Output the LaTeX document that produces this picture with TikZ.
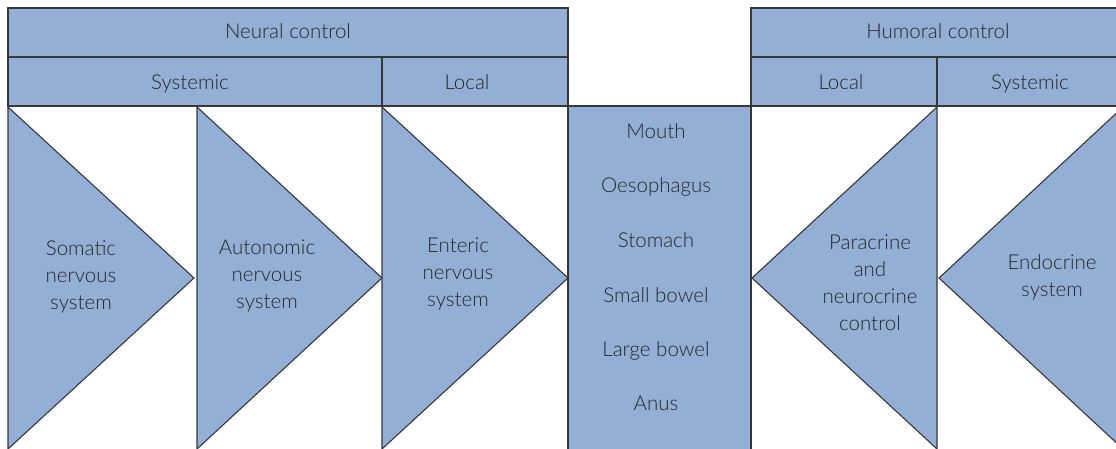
\documentclass[tikz,border=0pt]{standalone}
\usepackage{fontspec}
\setmainfont{Lato}[UprightFont={* Light}]
\definecolor{panel}{RGB}{147,175,214}
\definecolor{edge}{RGB}{55,55,58}
\definecolor{ink}{RGB}{40,38,40}
\tikzset{
  shade/.style={fill=panel,draw=edge,line width=1.1pt,line join=miter},
  lbl/.style={text=ink,align=center,inner sep=0pt,font=\fontsize{20.5}{27}\selectfont},
  one/.style={lbl,anchor=base}
}
\begin{document}
\begin{tikzpicture}[x=1pt,y=-1pt]
\useasboundingbox (0,0) rectangle (1116,448);
\clip (0,0) rectangle (1116,448);
% header boxes
\draw[shade] (8,8) rectangle (568,57);
\draw[shade] (8,57) rectangle (382,106);
\draw[shade] (382,57) rectangle (568,106);
\draw[shade] (751,8) rectangle (1130,57);
\draw[shade] (751,57) rectangle (937,106);
\draw[shade] (937,57) rectangle (1130,106);
% triangles
\draw[shade] (8,107) -- (194,278) -- (8,449) -- cycle;
\draw[shade] (197,107) -- (382,278) -- (197,449) -- cycle;
\draw[shade] (382,107) -- (568,278) -- (382,449) -- cycle;
\draw[shade] (937,107) -- (752,278) -- (937,449) -- cycle;
\draw[shade] (1123,107) -- (939,278) -- (1123,449) -- cycle;
% central column
\draw[shade] (568,106) rectangle (751,460);
% labels
\node[one] (neural) at (288,38) {Neural control};
\node[one] (nsys) at (190,89) {Systemic};
\node[one] (nloc) at (467,89) {Local};
\node[one] (humoral) at (938,38) {Humoral control};
\node[one] (hloc) at (841,89) {Local};
\node[one] (hsys) at (1030,89) {Systemic};
\node[lbl] (somatic) at (81,277) {Somatic\\nervous\\system};
\node[lbl] (autonomic) at (267,276) {Autonomic\\nervous\\system};
\node[lbl] (enteric) at (458,274) {Enteric\\nervous\\system};
\node[lbl] (paracrine) at (870,283) {Paracrine\\and\\neurocrine\\control};
\node[lbl] (endocrine) at (1052,277) {Endocrine\\system};
\node[one] (mouth) at (656,138) {Mouth};
\node[one] (oeso) at (656,192) {Oesophagus};
\node[one] (stomach) at (656,247) {Stomach};
\node[one] (small) at (656,302) {Small bowel};
\node[one] (large) at (656,356) {Large bowel};
\node[one] (anus) at (656,410) {Anus};
\end{tikzpicture}
\end{document}
